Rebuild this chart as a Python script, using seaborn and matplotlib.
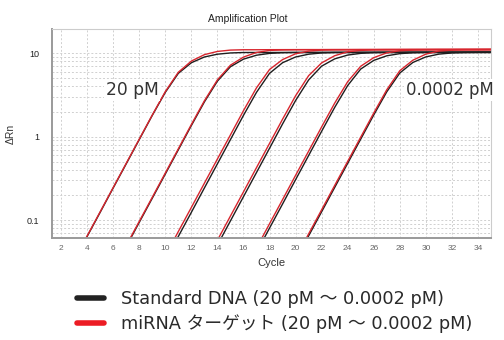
import numpy as np
import pandas as pd
import matplotlib
matplotlib.use("Agg")
import matplotlib.pyplot as plt
import seaborn as sns
from matplotlib.ticker import FixedLocator, LogLocator, NullFormatter, FixedFormatter
from matplotlib.lines import Line2D

nan = np.nan

# ---------------- data ----------------
cycles = list(range(1, 36))
concentrations = ["20 pM", "2 pM", "0.2 pM", "0.02 pM", "0.002 pM", "0.0002 pM"]
series_names = ["Standard DNA (20 pM ～ 0.0002 pM)", "miRNA ターゲット (20 pM ～ 0.0002 pM)"]

std_20 = [nan, 0.0168, 0.0327, 0.0638, 0.124, 0.243, 0.473, 0.923, 1.80, 3.40,
          5.74, 7.69, 9.01, 9.73, 10.07, 10.19, 10.20, 10.20, 10.21, 10.21,
          10.22, 10.22, 10.23, 10.23, 10.24, 10.24, 10.25, 10.25, 10.26, 10.26,
          10.27, 10.27, 10.28, 10.28, 10.29]
std_2 = [nan, nan, nan, nan, nan, 0.0247, 0.0482, 0.0940, 0.183, 0.357,
         0.697, 1.36, 2.61, 4.63, 6.89, 8.49, 9.46, 9.95, 10.14, 10.20,
         10.21, 10.21, 10.22, 10.22, 10.23, 10.23, 10.24, 10.24, 10.25, 10.25,
         10.26, 10.26, 10.27, 10.27, 10.28]
std_02 = [nan, nan, nan, nan, nan, nan, nan, nan, 0.0168, 0.0327,
          0.0638, 0.124, 0.243, 0.473, 0.923, 1.80, 3.40, 5.74, 7.69, 9.01,
          9.73, 10.07, 10.19, 10.20, 10.20, 10.21, 10.21, 10.22, 10.22, 10.23,
          10.23, 10.24, 10.24, 10.25, 10.25]
std_002 = [nan, nan, nan, nan, nan, nan, nan, nan, nan, nan,
           nan, 0.0132, 0.0258, 0.0502, 0.0979, 0.191, 0.372, 0.726, 1.42, 2.71,
           4.78, 7.00, 8.55, 9.50, 9.96, 10.16, 10.20, 10.20, 10.21, 10.21,
           10.22, 10.22, 10.23, 10.23, 10.24]
std_0002 = [nan, nan, nan, nan, nan, nan, nan, nan, nan, nan,
            nan, nan, nan, nan, 0.0108, 0.0211, 0.0411, 0.0802, 0.156, 0.305,
            0.594, 1.16, 2.24, 4.10, 6.46, 8.20, 9.31, 9.88, 10.12, 10.20,
            10.20, 10.21, 10.21, 10.22, 10.22]
std_00002 = [nan, nan, nan, nan, nan, nan, nan, nan, nan, nan,
             nan, nan, nan, nan, nan, nan, nan, nan, 0.0170, 0.0332,
             0.0647, 0.126, 0.246, 0.480, 0.935, 1.82, 3.45, 5.79, 7.74, 9.03,
             9.75, 10.07, 10.18, 10.20, 10.20]

mir_20 = [nan, 0.0170, 0.0332, 0.0647, 0.126, 0.246, 0.480, 0.935, 1.82, 3.47,
          5.92, 8.05, 9.61, 10.5, 10.9, 11.0, 11.0, 11.02, 11.03, 11.04,
          11.05, 11.05, 11.06, 11.06, 11.07, 11.07, 11.08, 11.08, 11.09, 11.09,
          11.10, 11.10, 11.11, 11.11, 11.12]
mir_2 = [nan, nan, nan, nan, nan, 0.0254, 0.0495, 0.0966, 0.188, 0.367,
         0.716, 1.40, 2.69, 4.80, 7.19, 8.99, 10.2, 10.8, 10.95, 11.0,
         11.0, 11.02, 11.03, 11.04, 11.05, 11.05, 11.06, 11.06, 11.07, 11.07,
         11.08, 11.08, 11.09, 11.09, 11.10]
mir_02 = [nan, nan, nan, nan, nan, nan, nan, 0.00984, 0.0192, 0.0374,
          0.0730, 0.142, 0.277, 0.541, 1.05, 2.05, 3.85, 6.38, 8.39, 9.84,
          10.6, 10.9, 11.0, 11.0, 11.02, 11.03, 11.04, 11.05, 11.05, 11.06,
          11.06, 11.07, 11.07, 11.08, 11.08]
mir_002 = [nan, nan, nan, nan, nan, nan, nan, nan, nan, nan,
           nan, 0.0151, 0.0294, 0.0574, 0.112, 0.218, 0.426, 0.830, 1.62, 3.09,
           5.38, 7.66, 9.33, 10.4, 10.8, 11.0, 11.0, 11.02, 11.03, 11.04,
           11.05, 11.05, 11.06, 11.06, 11.07]
mir_0002 = [nan, nan, nan, nan, nan, nan, nan, nan, nan, nan,
            nan, nan, nan, nan, 0.0122, 0.0238, 0.0463, 0.0904, 0.176, 0.344,
            0.670, 1.31, 2.52, 4.56, 6.98, 8.85, 10.1, 10.7, 10.9, 11.0,
            11.0, 11.02, 11.03, 11.04, 11.05]
mir_00002 = [nan, nan, nan, nan, nan, nan, nan, nan, nan, nan,
             nan, nan, nan, nan, nan, nan, nan, nan, 0.0180, 0.0350,
             0.0683, 0.133, 0.260, 0.506, 0.987, 1.92, 3.65, 6.17, 8.24, 9.75,
             10.6, 10.9, 11.0, 11.0, 11.02]

std_curves = [std_20, std_2, std_02, std_002, std_0002, std_00002]
mir_curves = [mir_20, mir_2, mir_02, mir_002, mir_0002, mir_00002]

y_ticks = [0.1, 1, 10]
y_tick_labels = ["0.1", "1", "10"]
x_ticks = list(range(2, 35, 2))

colors = {series_names[0]: "#1e1e1e", series_names[1]: "#d8262e"}
legend_colors = {series_names[0]: "#222222", series_names[1]: "#ec1c24"}

# ---------------- build table ----------------
rows = []
for name, curves in zip(series_names, [std_curves, mir_curves]):
    for conc, vals in zip(concentrations, curves):
        assert len(vals) == len(cycles)
        for c, v in zip(cycles, vals):
            rows.append({"Cycle": c, "dRn": v, "Series": name, "Conc": conc})
df = pd.DataFrame(rows).dropna()

# ---------------- plot ----------------
sns.set_style("white")
plt.rcParams["font.family"] = ["DejaVu Sans", "Noto Sans CJK JP"]

fig = plt.figure(figsize=(5.04, 3.40), dpi=100)
ax = fig.add_axes([52 / 504, 1 - 238 / 340, (491 - 52) / 504, (238 - 29) / 340])

sns.lineplot(data=df, x="Cycle", y="dRn", hue="Series", units="Conc",
             estimator=None, palette=colors, linewidth=1.0, sort=False,
             ax=ax, legend=False)

ax.set_yscale("log")
ax.set_xlim(1.3, 35.0)
ax.set_ylim(0.061, 19.5)

ax.xaxis.set_major_locator(FixedLocator(x_ticks))
ax.yaxis.set_major_locator(FixedLocator(y_ticks))
ax.yaxis.set_major_formatter(FixedFormatter(y_tick_labels))
ax.yaxis.set_minor_locator(LogLocator(base=10, subs=np.arange(2, 10)))
ax.yaxis.set_minor_formatter(NullFormatter())

grid_kw = dict(color="#d0d0d0", linestyle=(0, (2, 2)), linewidth=0.7)
ax.grid(True, which="major", axis="x", **grid_kw)
ax.grid(True, which="both", axis="y", **grid_kw)
ax.set_axisbelow(True)

for t in ax.get_xticklabels():
    t.set_family(["Liberation Sans", "DejaVu Sans"])
for t in ax.get_yticklabels():
    t.set_family(["Liberation Sans", "DejaVu Sans"])
ax.tick_params(axis="x", which="both", length=0, pad=5, labelsize=6, labelcolor="#666666")
ax.tick_params(axis="y", which="both", length=0, pad=9, labelsize=6.5, labelcolor="#222222")

for side in ["top", "right"]:
    ax.spines[side].set_color("#cccccc")
    ax.spines[side].set_linewidth(0.8)
for side in ["left", "bottom"]:
    ax.spines[side].set_color("#9a9a9a")
    ax.spines[side].set_linewidth(1.4)

ax.set_xlabel("Cycle", fontsize=8, color="#333333", family=["Liberation Sans", "DejaVu Sans"], labelpad=4)
ax.set_ylabel("ΔRn", fontsize=7.5, color="#333333", family=["Liberation Sans", "DejaVu Sans"], labelpad=8)

fig.text(248 / 504, 1 - 19 / 340, "Amplification Plot", ha="center", va="center",
         fontsize=7.5, color="#222222", family=["Liberation Sans", "DejaVu Sans"])

bbox = dict(facecolor="white", edgecolor="none", pad=1.5)
fig.text(132 / 504, 1 - 90 / 340, concentrations[0], ha="center", va="center", fontsize=12.3,
         color="#333333", bbox=bbox, zorder=5)
fig.text(406 / 504, 1 - 90 / 340, concentrations[-1], ha="left", va="center", fontsize=11.9,
         color="#333333", bbox=bbox, zorder=5)

handles = [Line2D([], [], color=legend_colors[n], linewidth=4) for n in series_names]
fig.legend(handles, series_names, loc="center left",
           bbox_to_anchor=(77 / 504, 1 - 311.5 / 340), frameon=False,
           fontsize=12.8, handlelength=1.5, handletextpad=1.0, labelspacing=0.38,
           borderpad=0, borderaxespad=0, labelcolor="#2a2a2a")

fig.savefig("out.png", dpi=100)
